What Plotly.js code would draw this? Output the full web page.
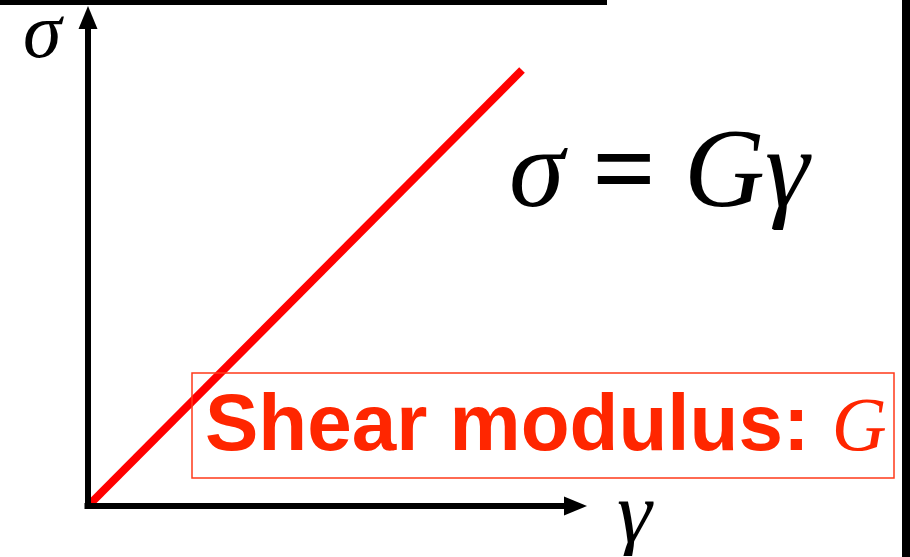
<!DOCTYPE html>
<html>
<head>
<meta charset="utf-8">
<script src="https://cdn.plot.ly/plotly-3.0.1.min.js"></script>
<style>html,body{margin:0;padding:0;background:#fff;}#chart{width:910px;height:557px;}</style>
</head>
<body>
<div id="chart"></div>
<script>
// Data: linear elastic relation sigma = G * gamma (schematic)
const gamma = [0, 1];
const sigma = [0, 1];
const xLabel = 'γ';
const yLabel = 'σ';
const equationText = '<i>σ</i> <b>=</b> <i>Gγ</i>';
const boxLabel = 'Shear modulus: ';
const boxSymbol = 'G';

const W = 910, H = 557;
// pixel scale
const sx = 434, sy = 436, ox = 88, oy = 506;
const xr = [-ox / sx, (W - ox) / sx];
const yr = [-(H - oy) / sy, oy / sy];
const px = p => p / sx, py = p => p / sy;

const yAxisTop = (oy - 29) / sy, yTip = (oy - 6) / sy;
const xAxisEnd = (564 - ox) / sx, xTip = (587 - ox) / sx;

const shapes = [
  // axes
  {type:'line', xref:'x', yref:'y', x0:0, x1:0, y0:-py(3), y1:yAxisTop, line:{color:'#000', width:6}},
  {type:'line', xref:'x', yref:'y', x0:-px(3.5), x1:xAxisEnd, y0:0, y1:0, line:{color:'#000', width:6}},
  // arrowheads
  {type:'path', xref:'x', yref:'y', path:`M ${-px(9.5)} ${yAxisTop} L ${px(9.5)} ${yAxisTop} L 0 ${yTip} Z`, fillcolor:'#000', line:{width:0}},
  {type:'path', xref:'x', yref:'y', path:`M ${xAxisEnd} ${-py(9.5)} L ${xAxisEnd} ${py(9.5)} L ${xTip} 0 Z`, fillcolor:'#000', line:{width:0}},
  // frame bars
  {type:'rect', xref:'paper', yref:'paper', x0:0, x1:607/W, y0:1-5/H, y1:1, fillcolor:'#000', line:{width:0}},
  {type:'rect', xref:'paper', yref:'paper', x0:902/W, x1:1, y0:0, y1:1, fillcolor:'#000', line:{width:0}},
  // red box
  {type:'rect', xref:'paper', yref:'paper', x0:192/W, x1:894/W, y0:1-478/H, y1:1-373/H, fillcolor:'rgba(0,0,0,0)', line:{color:'#ff3a1a', width:1.5}}
];

const serif = 'Liberation Serif, Times New Roman, serif';
const annotations = [
  {xref:'paper', yref:'paper', x:43/W, y:1-30/H, xanchor:'center', yanchor:'middle', showarrow:false, height:56,
   text:'<i>'+yLabel+'</i>', font:{family:serif, size:78, color:'#000'}},
  {xref:'paper', yref:'paper', x:635/W, y:1-512/H, xanchor:'center', yanchor:'middle', showarrow:false, height:88,
   text:'<i>'+xLabel+'</i>', font:{family:serif, size:88, color:'#000'}},
  {xref:'paper', yref:'paper', x:660/W, y:1-168/H, xanchor:'center', yanchor:'middle', showarrow:false,
   text:equationText, font:{family:serif, size:112, color:'#000'}},
  {xref:'paper', yref:'paper', x:203/W, y:1-422/H, xanchor:'left', yanchor:'middle', showarrow:false,
   text:'<b>'+boxLabel+'</b><span style="font-family:Liberation Serif;font-size:76px"><i>'+boxSymbol+'</i></span>',
   font:{family:'Liberation Sans, Arial, sans-serif', size:80, color:'#ff2600'}}
];

const data = [{
  x: gamma, y: sigma, type:'scatter', mode:'lines',
  line:{color:'#ff0000', width:8}, hoverinfo:'skip'
}];

const layout = {
  width:W, height:H, margin:{l:0,r:0,t:0,b:0},
  paper_bgcolor:'#fff', plot_bgcolor:'#fff', showlegend:false,
  xaxis:{range:xr, visible:false, fixedrange:true},
  yaxis:{range:yr, visible:false, fixedrange:true},
  shapes: shapes, annotations: annotations
};

Plotly.newPlot('chart', data, layout, {staticPlot:true, displayModeBar:false});
</script>
</body>
</html>
